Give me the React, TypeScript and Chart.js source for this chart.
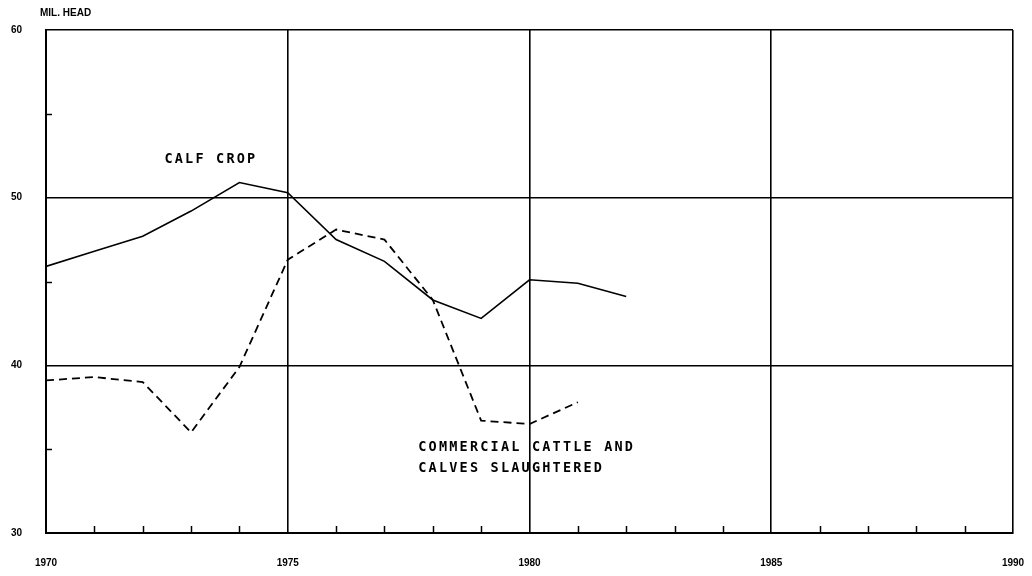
import React, { useEffect, useRef } from "react";
import { Chart, registerables } from "chart.js";

Chart.register(...registerables);

const years = [1970, 1971, 1972, 1973, 1974, 1975, 1976, 1977, 1978, 1979, 1980, 1981, 1982];
const calfCrop = [45.9, 46.8, 47.7, 49.2, 50.9, 50.3, 47.5, 46.2, 43.9, 42.8, 45.1, 44.9, 44.1];
const slaughtered = [39.1, 39.3, 39.0, 36.0, 39.9, 46.3, 48.1, 47.5, 43.9, 36.7, 36.5, 37.8];
const yLabels = [30, 40, 50, 60];
const xLabels = [1970, 1975, 1980, 1985, 1990];
const annotations = [
  { text: "CALF CROP", x: 1972.45, y: 52.3 },
  { text: "COMMERCIAL CATTLE AND", x: 1977.7, y: 35.1 },
  { text: "CALVES SLAUGHTERED", x: 1977.7, y: 33.85 },
];
const unitLabel = "MIL. HEAD";

const FONT = "'DejaVu Sans Mono', monospace";

const overlayPlugin = {
  id: "overlay",
  afterDraw(chart: any) {
    const ctx = chart.ctx;
    const xs = chart.scales.x;
    const ys = chart.scales.y;
    const area = chart.chartArea;
    ctx.save();
    ctx.strokeStyle = "#000";
    ctx.lineWidth = 1.5;
    for (let yr = 1971; yr < 1990; yr++) {
      if (yr % 5 === 0) continue;
      const px = Math.round(xs.getPixelForValue(yr)) + 0.5;
      ctx.beginPath();
      ctx.moveTo(px, area.bottom);
      ctx.lineTo(px, area.bottom - 7);
      ctx.stroke();
    }
    for (const v of [35, 45, 55]) {
      const py = Math.round(ys.getPixelForValue(v)) + 0.5;
      ctx.beginPath();
      ctx.moveTo(area.left, py);
      ctx.lineTo(area.left + 6, py);
      ctx.stroke();
    }
    ctx.fillStyle = "#000";
    ctx.font = "bold 13.5px " + FONT;
    try { (ctx as any).letterSpacing = "2.2px"; } catch (e) {}
    ctx.textBaseline = "middle";
    ctx.textAlign = "left";
    for (const a of annotations) {
      ctx.fillText(a.text, xs.getPixelForValue(a.x), ys.getPixelForValue(a.y));
    }
    try { (ctx as any).letterSpacing = "0px"; } catch (e) {}
    ctx.font = "bold 10px 'Liberation Sans', sans-serif";
    ctx.fillText(unitLabel, 40, 13);
    ctx.restore();
  },
};

export default function App() {
  const ref = useRef<HTMLCanvasElement | null>(null);
  useEffect(() => {
    if (!ref.current) return;
    const chart = new Chart(ref.current, {
      type: "line",
      data: {
        datasets: [
          {
            label: "Calf crop",
            data: years.map((y, i) => ({ x: y, y: calfCrop[i] })),
            borderColor: "#000",
            borderWidth: 1.6,
            pointRadius: 0,
            tension: 0,
          },
          {
            label: "Commercial cattle and calves slaughtered",
            data: slaughtered.map((v, i) => ({ x: years[i], y: v })),
            borderColor: "#000",
            borderWidth: 1.8,
            borderDash: [8, 5],
            pointRadius: 0,
            tension: 0,
          },
        ],
      },
      options: {
        responsive: false,
        animation: false,
        layout: { padding: { top: 30, right: 19, left: 0, bottom: 0 } },
        plugins: { legend: { display: false }, tooltip: { enabled: false } },
        scales: {
          x: {
            type: "linear",
            min: 1970,
            max: 1990,
            afterFit(scale: any) {
              scale.height = 43;
              scale.paddingLeft = 0;
              scale.paddingRight = 0;
            },
            border: { display: true, color: "#000", width: 2 },
            grid: {
              drawTicks: false,
              color: (c: any) => (c.tick && c.tick.value % 5 === 0 ? "#000" : "rgba(0,0,0,0)"),
              lineWidth: 1.6,
            },
            ticks: {
              stepSize: 1,
              autoSkip: false,
              maxRotation: 0,
              padding: 24,
              color: "#000",
              font: { family: "'Liberation Sans', sans-serif", size: 10, weight: "bold" },
              callback: (v: any) => (xLabels.includes(Number(v)) ? String(v) : ""),
            },
          },
          y: {
            min: 30,
            max: 60,
            afterFit(scale: any) {
              scale.width = 46;
              scale.paddingTop = 0;
              scale.paddingBottom = 0;
            },
            border: { display: true, color: "#000", width: 2 },
            grid: {
              drawTicks: false,
              color: (c: any) => (c.tick && yLabels.includes(c.tick.value) ? "#000" : "rgba(0,0,0,0)"),
              lineWidth: 1.6,
            },
            ticks: {
              stepSize: 5,
              padding: 24,
              color: "#000",
              font: { family: "'Liberation Sans', sans-serif", size: 10, weight: "bold" },
              callback: (v: any) => (yLabels.includes(Number(v)) ? String(v) : ""),
            },
          },
        },
      },
      plugins: [overlayPlugin],
    } as any);
    return () => chart.destroy();
  }, []);
  return (
    <div style={{ position: "fixed", left: 0, top: 0, width: 1032, height: 576, background: "#fff" }}>
      <canvas ref={ref} width={1032} height={576} />
    </div>
  );
}
